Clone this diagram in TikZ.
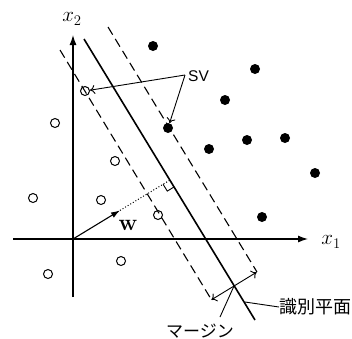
\RequirePackage{fix-cm}
\documentclass[tikz,border=0pt]{standalone}
\usepackage{fontspec}
\usepackage{amsmath}
\newfontfamily\jpfont{Noto Sans CJK JP}
\newfontfamily\svfont{Liberation Sans}
\usetikzlibrary{arrows.meta}

\begin{document}
\begin{tikzpicture}[x=1pt,y=-1pt,
    ax/.style={line width=1.2pt,-{Latex[length=10pt,width=7pt]}},
    margline/.style={line width=1.1pt,dash pattern=on 9pt off 5pt},
    opnpt/.style={circle,draw,line width=1pt,minimum size=9pt,inner sep=0pt},
    fllpt/.style={circle,fill,minimum size=10pt,inner sep=0pt},
    ptr/.style={line width=0.9pt,-{To[length=5pt,width=9pt]}}]
    \useasboundingbox (0,0) rectangle (352,338);
    % axes
    \coordinate (O) at (73,239);
    \draw [ax] (13,239)--(308,239);
    \draw [ax] (73,297)--(73,35);
    \node (x1lab) at (331,242) {\fontsize{21}{24}\selectfont $x_1$};
    \node (x2lab) at (72,19) {\fontsize{21}{24}\selectfont $x_2$};
    % separating plane and margins
    \draw [line width=1.6pt] (84,39)--(255,320);
    \draw [margline] (60,50)--(211,299);
    \draw [margline] (108,27)--(257,272);
    % data points
    \foreach \p [count=\i] in {(85,91),(55,123),(115,161),(33,198),(101,200),(158,215),(48,274),(121,261)}
        \node [opnpt] (o\i) at \p {};
    \foreach \p [count=\i] in {(153,46),(168,128),(255,69),(225,100),(209,149),(247,140),(285,138),(315,173),(262,217)}
        \node [fllpt] (f\i) at \p {};
    % support vectors
    \coordinate (svv) at (185,75);
    \node [anchor=west,inner sep=0pt] (svlab) at (188,76) {\fontsize{15.5}{18}\selectfont\svfont SV};
    \draw [ptr] (svv)--(o1);
    \draw [ptr] (svv)--(f2);
    % normal vector w
    \coordinate (wtip) at (120,210.4);
    \coordinate (foot) at (169.9,180.1);
    \draw [line width=1.1pt,-{Latex[length=9pt,width=6pt]}] (O)--(wtip);
    \draw [dotted,line width=1pt] (wtip)--(foot);
    \draw [line width=0.9pt] (163.1,184.3)--(167.3,191.1)--(174.1,186.9);
    \node (wlab) at (128,225) {\fontsize{23}{26}\selectfont\bfseries w};
    % margin
    \coordinate (mc) at (234,286);
    \coordinate (ml) at (211.4,299.8);
    \coordinate (mr) at (256.6,272.2);
    \draw [ptr] (mc)--(ml);
    \draw [ptr] (mc)--(mr);
    \node (mlab) at (200,331) {\fontsize{17}{19}\selectfont\jpfont マージン};
    \coordinate (mlead) at (220,317);
    \draw [line width=0.9pt] (mlead)--(mc);
    \node [anchor=west,inner sep=0pt] (slab) at (279,307) {\fontsize{18}{20}\selectfont\jpfont 識別平面};
    \coordinate (slead) at (245,302);
    \draw [line width=0.9pt] (slab.west)--(slead);
\end{tikzpicture}
\end{document}
